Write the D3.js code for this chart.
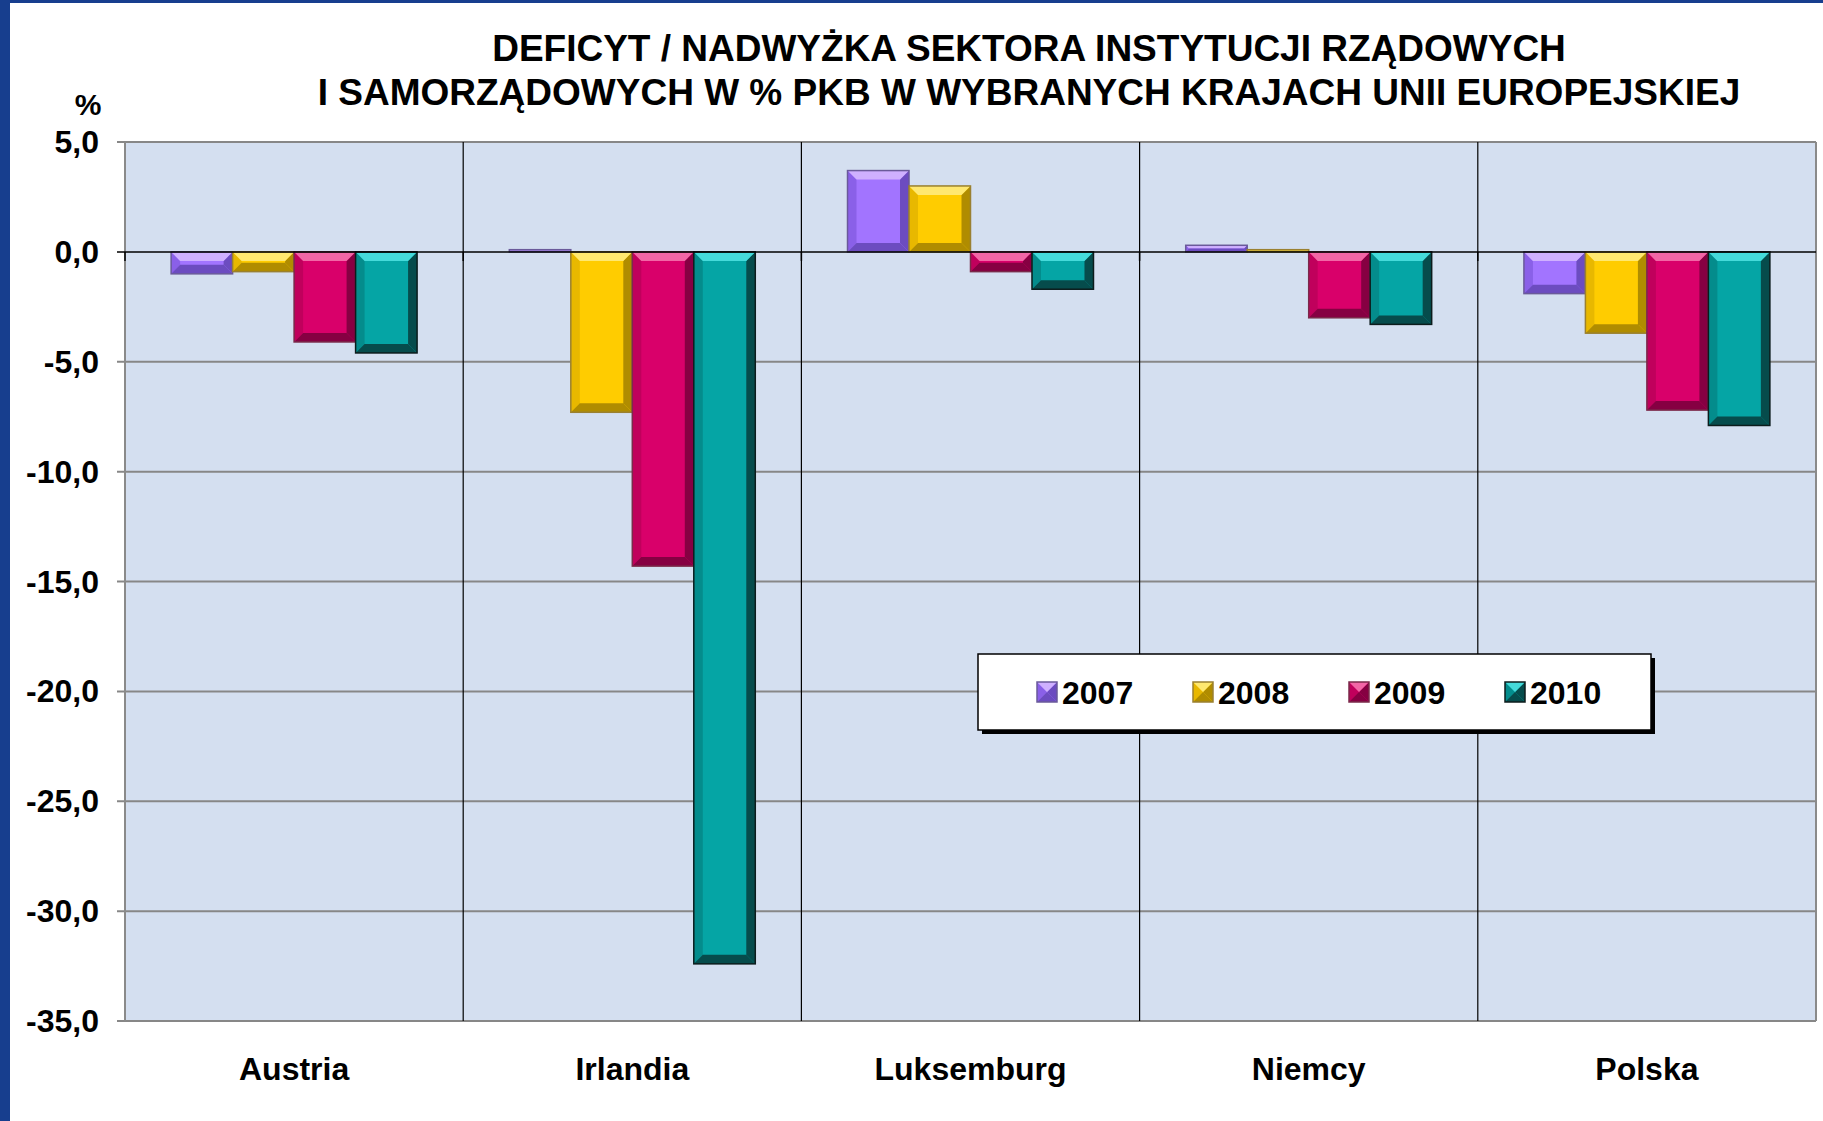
<!DOCTYPE html>
<html lang="pl">
<head>
<meta charset="UTF-8">
<title>Deficyt / nadwyżka sektora instytucji rządowych i samorządowych</title>
<script src="https://d3js.org/d3.v7.min.js"></script>
<style>
  body { margin: 0; background: #fff; }
  text { font-family: Arial, "Liberation Sans", sans-serif; font-weight: bold; fill: #000; }
</style>
</head>
<body>
<svg id="chart" width="1823" height="1121"></svg>
<script>
  // dane
  const countries = ["Austria", "Irlandia", "Luksemburg", "Niemcy", "Polska"];
  const years = ["2007", "2008", "2009", "2010"];
  const v2007 = [-1.0, 0.1, 3.7, 0.3, -1.9];
  const v2008 = [-0.9, -7.3, 3.0, 0.1, -3.7];
  const v2009 = [-4.1, -14.3, -0.9, -3.0, -7.2];
  const v2010 = [-4.6, -32.4, -1.7, -3.3, -7.9];
  const yTicks = [5, 0, -5, -10, -15, -20, -25, -30, -35];
  const titleLines = [
    "DEFICYT / NADWYŻKA SEKTORA INSTYTUCJI RZĄDOWYCH",
    "I SAMORZĄDOWYCH W % PKB W WYBRANYCH KRAJACH UNII EUROPEJSKIEJ"
  ];

  const seriesValues = [v2007, v2008, v2009, v2010];
  // kolory: podstawa, jasna krawędź, ciemna krawędź, obrys
  const palette = [
    { base: "#a274ff", light: "#cfb0ff", dark: "#6c4cc0", side: "#8a60e8", stroke: "#6a5a9a" },
    { base: "#ffcc00", light: "#ffe870", dark: "#b08c00", side: "#e8b800", stroke: "#9a8030" },
    { base: "#d9006a", light: "#f266a6", dark: "#860042", side: "#c0005c", stroke: "#7a2a4a" },
    { base: "#05a5a5", light: "#45dada", dark: "#064c4c", side: "#048c8c", stroke: "#0c1c1c" }
  ];

  const svg = d3.select("#chart");
  const W = 1823, H = 1121;
  const plot = { left: 125, right: 1816, top: 142, bottom: 1021 };

  // tło slajdu (niebieski pasek)
  svg.append("rect").attr("x", 0).attr("y", 0).attr("width", 10).attr("height", H).attr("fill", "#173e8e");
  svg.append("rect").attr("x", 0).attr("y", 0).attr("width", W).attr("height", 3).attr("fill", "#173e8e");

  const x0 = d3.scaleBand().domain(countries).range([plot.left, plot.right]).paddingInner(0).paddingOuter(0);
  const x1 = d3.scaleBand().domain(years).range([0, x0.bandwidth()]).paddingInner(0).paddingOuter(0.75);
  const y = d3.scaleLinear().domain([-35, 5]).range([plot.bottom, plot.top]);

  const locale = d3.formatLocale({ decimal: ",", thousands: " ", grouping: [3], currency: ["", " zł"], minus: "-" });
  const fmt = locale.format(".1f");

  // obszar wykresu
  svg.append("rect")
    .attr("x", plot.left).attr("y", plot.top)
    .attr("width", plot.right - plot.left).attr("height", plot.bottom - plot.top)
    .attr("fill", "#d4dff0");

  // siatka pozioma
  svg.append("g").selectAll("line")
    .data(yTicks.filter(d => d !== 0))
    .join("line")
    .attr("x1", plot.left - 8).attr("x2", plot.right)
    .attr("y1", d => y(d)).attr("y2", d => y(d))
    .attr("stroke", "#878787").attr("stroke-width", 2);

  // ramka prawa i lewa oś
  svg.append("line").attr("x1", plot.right).attr("x2", plot.right).attr("y1", plot.top).attr("y2", plot.bottom)
    .attr("stroke", "#8a8a8a").attr("stroke-width", 2);
  svg.append("line").attr("x1", plot.left).attr("x2", plot.left).attr("y1", plot.top).attr("y2", plot.bottom)
    .attr("stroke", "#8a8a8a").attr("stroke-width", 2);

  // pionowe linie między krajami
  svg.append("g").selectAll("line")
    .data(countries.slice(1))
    .join("line")
    .attr("x1", d => x0(d)).attr("x2", d => x0(d))
    .attr("y1", plot.top).attr("y2", plot.bottom)
    .attr("stroke", "#000").attr("stroke-width", 1.2);

  // słupki z fazowaniem
  function bevelBar(g, x, yy, w, h, c, b0) {
    const b = Math.max(0, Math.min(b0, h / 2, w / 2));
    g.append("rect").attr("x", x).attr("y", yy).attr("width", w).attr("height", h).attr("fill", c.base);
    const poly = (pts, fill) => g.append("polygon").attr("points", pts.map(p => p.join(",")).join(" ")).attr("fill", fill);
    poly([[x, yy], [x + b, yy + b], [x + b, yy + h - b], [x, yy + h]], c.side);
    poly([[x + w, yy], [x + w - b, yy + b], [x + w - b, yy + h - b], [x + w, yy + h]], c.dark);
    poly([[x, yy], [x + w, yy], [x + w - b, yy + b], [x + b, yy + b]], c.light);
    poly([[x, yy + h], [x + w, yy + h], [x + w - b, yy + h - b], [x + b, yy + h - b]], c.dark);
    g.append("rect").attr("x", x).attr("y", yy).attr("width", w).attr("height", h)
      .attr("fill", "none").attr("stroke", c.stroke).attr("stroke-width", 1.5);
  }

  const barData = [];
  countries.forEach((cn, ci) => {
    years.forEach((yr, si) => {
      barData.push({ country: cn, year: yr, si: si, value: seriesValues[si][ci] });
    });
  });

  const bars = svg.append("g");
  barData.forEach(d => {
    const bx = x0(d.country) + x1(d.year);
    const top = y(Math.max(0, d.value));
    const h = Math.abs(y(d.value) - y(0));
    bevelBar(bars.append("g"), bx, top, x1.bandwidth(), h, palette[d.si], 9);
  });

  // linia zero
  svg.append("line").attr("x1", plot.left - 8).attr("x2", plot.right)
    .attr("y1", y(0)).attr("y2", y(0)).attr("stroke", "#000").attr("stroke-width", 1.5);
  svg.append("g").selectAll("line")
    .data(countries)
    .join("line")
    .attr("x1", d => x0(d)).attr("x2", d => x0(d))
    .attr("y1", y(0)).attr("y2", y(0) + 9)
    .attr("stroke", "#000").attr("stroke-width", 1.5);

  // etykiety osi Y
  svg.append("g").selectAll("text")
    .data(yTicks)
    .join("text")
    .attr("x", 99).attr("y", d => y(d) + 11)
    .attr("text-anchor", "end")
    .attr("font-size", 32)
    .text(d => fmt(d));

  svg.append("text").attr("x", 88).attr("y", 115).attr("text-anchor", "middle")
    .attr("font-size", 30).text("%");

  // etykiety krajów
  svg.append("g").selectAll("text")
    .data(countries)
    .join("text")
    .attr("x", d => x0(d) + x0.bandwidth() / 2)
    .attr("y", 1080)
    .attr("text-anchor", "middle")
    .attr("font-size", 32)
    .text(d => d);

  // tytuł
  svg.append("g").selectAll("text")
    .data(titleLines)
    .join("text")
    .attr("x", 1029)
    .attr("y", (d, i) => 61 + i * 44)
    .attr("text-anchor", "middle")
    .attr("font-size", 37)
    .text(d => d);

  // legenda
  const leg = svg.append("g");
  leg.append("rect").attr("x", 982).attr("y", 658).attr("width", 673).attr("height", 76).attr("fill", "#000");
  leg.append("rect").attr("x", 978).attr("y", 654).attr("width", 673).attr("height", 76)
    .attr("fill", "#fff").attr("stroke", "#000").attr("stroke-width", 1.5);
  years.forEach((yr, i) => {
    const lx = 1037 + i * 156;
    bevelBar(leg.append("g"), lx, 682, 20, 20, palette[i], 10);
    leg.append("text").attr("x", lx + 25).attr("y", 704).attr("font-size", 32).text(yr);
  });
</script>
</body>
</html>
